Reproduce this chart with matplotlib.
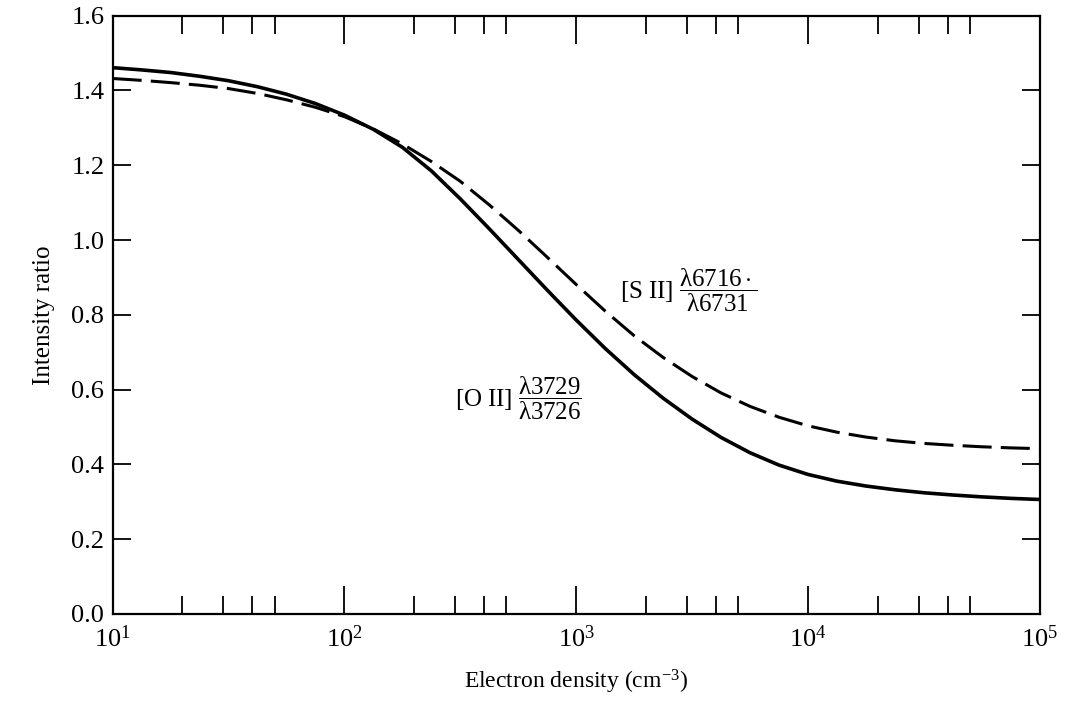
import numpy as np
import matplotlib
matplotlib.use("Agg")
import matplotlib.pyplot as plt
from matplotlib.ticker import LogLocator, FixedLocator, NullFormatter

plt.rcParams["font.family"] = ["Liberation Serif", "DejaVu Serif"]
plt.rcParams["mathtext.fontset"] = "custom"
plt.rcParams["mathtext.rm"] = "Liberation Serif"
plt.rcParams["mathtext.it"] = "Liberation Serif:italic"
plt.rcParams["mathtext.bf"] = "Liberation Serif:bold"

# log10 of electron density (cm^-3)
log_density = [1.0, 1.125, 1.25, 1.375, 1.5, 1.625, 1.75, 1.875, 2.0,
               2.125, 2.25, 2.375, 2.5, 2.625, 2.75, 2.875, 3.0,
               3.125, 3.25, 3.375, 3.5, 3.625, 3.75, 3.875, 4.0,
               4.125, 4.25, 4.375, 4.5, 4.625, 4.75, 4.875, 5.0]

# [O II] 3729/3726 (solid)
oii_ratio = [1.461, 1.455, 1.448, 1.438, 1.426, 1.41, 1.39, 1.365, 1.334,
             1.296, 1.248, 1.185, 1.11, 1.03, 0.948, 0.866, 0.786,
             0.71, 0.64, 0.577, 0.521, 0.472, 0.431, 0.398, 0.373,
             0.355, 0.342, 0.332, 0.324, 0.318, 0.313, 0.309, 0.306]

# [S II] 6716/6731 (dashed)
sii_ratio = [1.432, 1.427, 1.421, 1.414, 1.405, 1.392, 1.375, 1.355, 1.33,
             1.297, 1.257, 1.21, 1.157, 1.094, 1.026, 0.954, 0.881,
             0.81, 0.744, 0.686, 0.635, 0.591, 0.555, 0.526, 0.503,
             0.486, 0.473, 0.463, 0.456, 0.451, 0.447, 0.444, 0.442]

y_ticks = [0.0, 0.2, 0.4, 0.6, 0.8, 1.0, 1.2, 1.4, 1.6]

density = 10.0 ** np.array(log_density)

fig = plt.figure(figsize=(10.73, 7.13), dpi=100)
ax = fig.add_axes([0.105, 0.139, 0.864, 0.839])

ax.plot(density, oii_ratio, color="black", lw=2.6, solid_capstyle="butt")
ax.plot(density, sii_ratio, color="black", lw=2.2, linestyle=(0, (9.5, 3.0)))

ax.set_xscale("log")
ax.set_xlim(10, 1e5)
ax.set_ylim(0, 1.6)

ax.xaxis.set_major_locator(LogLocator(base=10, numticks=10))
ax.xaxis.set_minor_locator(LogLocator(base=10, subs=[2, 3, 4, 5], numticks=20))
ax.xaxis.set_minor_formatter(NullFormatter())
ax.yaxis.set_major_locator(FixedLocator(y_ticks))
ax.set_yticklabels([f"{v:.1f}" for v in y_ticks])

ax.tick_params(which="major", axis="x", direction="in", top=True, bottom=True,
               length=20, width=1.3, labelsize=19, pad=8)
ax.tick_params(which="minor", axis="x", direction="in", top=True, bottom=True,
               length=13, width=1.3)
ax.tick_params(axis="y", direction="in", left=True, right=True,
               length=13, width=1.3, labelsize=19, pad=6)

for s in ax.spines.values():
    s.set_linewidth(1.6)

ax.set_xlabel(r"Electron density (cm$^{-3}$)", fontsize=17, labelpad=12)
ax.set_ylabel("Intensity ratio", fontsize=18, labelpad=12)

ax.text(0.547, 0.542, r"[S II] $\dfrac{\mathrm{λ6716\cdot}}{\mathrm{λ6731}}$",
        transform=ax.transAxes, fontsize=18, va="center", ha="left")
ax.text(0.369, 0.361, r"[O II] $\dfrac{\mathrm{λ3729}}{\mathrm{λ3726}}$",
        transform=ax.transAxes, fontsize=18, va="center", ha="left")

fig.savefig("out.png", dpi=100)
